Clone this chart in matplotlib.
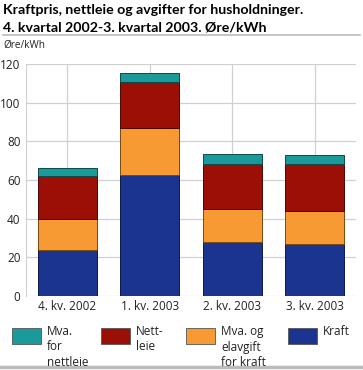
import matplotlib
matplotlib.use("Agg")
import matplotlib.pyplot as plt
from matplotlib.patches import Rectangle
from matplotlib.lines import Line2D
import numpy as np

plt.rcParams['font.family'] = ['Open Sans', 'DejaVu Sans']

categories = ["4. kv. 2002", "1. kv. 2003", "2. kv. 2003", "3. kv. 2003"]
kraft = [23.8, 62.4, 27.8, 26.9]
mva_kraft = [15.9, 24.7, 17.4, 17.3]
nettleie = [22.4, 23.4, 23.3, 23.9]
mva_nettleie = [4.3, 4.7, 5.0, 4.9]

series = [kraft, mva_kraft, nettleie, mva_nettleie]
colors = ["#1a348f", "#f79a33", "#9b0f06", "#1a9a9a"]
edges = ["#0d1a4a", "#7a4a10", "#4a0703", "#0d4a4a"]

legend_labels = ["Mva.\nfor\nnettleie", "Nett-\nleie", "Mva. og\nelavgift\nfor kraft", "Kraft"]
legend_colors = ["#1a9a9a", "#9b0f06", "#f79a33", "#1a348f"]

W, H = 363, 370
fig = plt.figure(figsize=(W / 100, H / 100), dpi=100)

ax = fig.add_axes([26 / W, 1 - 296 / H, (356 - 26) / W, (296 - 64) / H])
x = np.arange(len(categories))
bottom = np.zeros(len(categories))
for vals, c, ec in zip(series, colors, edges):
    ax.bar(x, vals, bottom=bottom, width=0.72, color=c, edgecolor=ec, linewidth=0.7, zorder=3)
    bottom += np.array(vals)

ax.set_xlim(-0.5, 3.5)
ax.set_ylim(0, 120)
ax.set_yticks(np.arange(0, 121, 20))
ax.set_xticks(x)
ax.set_xticklabels(categories)
ax.grid(True, color="#d0d0d0", linewidth=0.9, zorder=0)
for s in ["top", "right", "bottom"]:
    ax.spines[s].set_visible(False)
ax.spines["left"].set_color("#d0d0d0")
ax.tick_params(axis="both", length=0, labelsize=8.5, colors="#222222")
ax.tick_params(axis="y", pad=4)
ax.tick_params(axis="x", pad=3)

# Title
fig.text(3 / W, 1 - 13.5 / H, "Kraftpris, nettleie og avgifter for husholdninger.",
         ha="left", va="baseline", fontsize=10.2, fontweight="bold",
         family=["Lato", "DejaVu Sans"], color="#000000")
fig.text(3 / W, 1 - 31.8 / H, "4. kvartal 2002-3. kvartal 2003. Øre/kWh",
         ha="left", va="baseline", fontsize=10.2, fontweight="bold",
         family=["Lato", "DejaVu Sans"], color="#000000")
fig.add_artist(Line2D([3 / W, 360 / W], [1 - 35 / H, 1 - 35 / H], color="#bbbbbb", linewidth=1.2))
fig.text(3 / W, 1 - 47.3 / H, "Øre/kWh", ha="left", va="baseline", fontsize=7.2, color="#222222")

# Legend
patch_x = [12, 101, 186, 288]
for px, lab, col in zip(patch_x, legend_labels, legend_colors):
    fig.add_artist(Rectangle((px / W, 1 - 344 / H), 29 / W, 16.5 / H, facecolor=col,
                             edgecolor="#555555", linewidth=0.6, transform=fig.transFigure))
    fig.text((px + 35) / W, 1 - 325 / H, lab, ha="left", va="top", fontsize=8.5,
             linespacing=1.25, color="#222222")

fig.add_artist(Line2D([0, 1], [1 - 367 / H, 1 - 367 / H], color="#bbbbbb", linewidth=2.5))

fig.savefig("out.png", dpi=100)
